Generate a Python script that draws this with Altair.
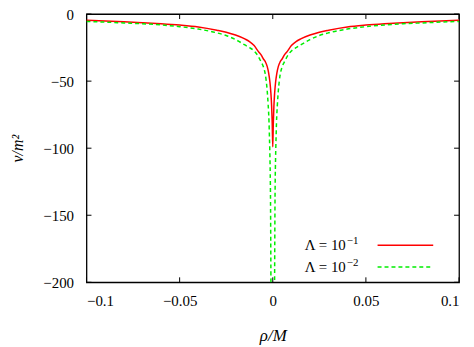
import altair as alt
import pandas as pd

# Red curve, Lambda = 10^-1
rho_red = [-0.1, -0.09, -0.08, -0.07, -0.06, -0.05, -0.04, -0.03, -0.025, -0.02, -0.015,
           -0.0125, -0.01, -0.0077, -0.006, -0.005, -0.004, -0.003, -0.0022, -0.0015,
           -0.001, -0.0006, -0.0003, 0.0,
           0.0003, 0.0006, 0.001, 0.0015, 0.0022, 0.003, 0.004, 0.005, 0.006,
           0.0077, 0.01, 0.0125, 0.015, 0.02, 0.025, 0.03, 0.04, 0.05, 0.06, 0.07,
           0.08, 0.09, 0.1]
v_red = [-4.6, -5.1, -5.7, -6.4, -7.2, -8.2, -9.6, -12.0, -13.5, -15.6, -18.5,
         -20.5, -23.5, -28.0, -31.0, -33.5, -35.5, -39.0, -44.0, -51.0,
         -59.0, -69.0, -81.0, -99.0,
         -81.0, -69.0, -59.0, -51.0, -44.0, -39.0, -35.5, -33.5, -31.0,
         -28.0, -23.5, -20.5, -18.5, -15.6, -13.5, -12.0, -9.6, -8.2, -7.2, -6.4,
         -5.7, -5.1, -4.6]

# Green dashed curve, Lambda = 10^-2
rho_green = [-0.1, -0.09, -0.08, -0.07, -0.06, -0.05, -0.04, -0.03, -0.025, -0.02, -0.015,
             -0.0125, -0.01, -0.008, -0.0065, -0.005, -0.004, -0.0035, -0.003, -0.0025,
             -0.002, -0.0018, -0.0015, -0.0013, -0.0012, -0.0011, -0.001, -0.0009, 0.0,
             0.0009, 0.001, 0.0011, 0.0012, 0.0013, 0.0015, 0.0018, 0.002, 0.0025,
             0.003, 0.0035, 0.004, 0.005, 0.0065, 0.008, 0.01, 0.0125, 0.015, 0.02,
             0.025, 0.03, 0.04, 0.05, 0.06, 0.07, 0.08, 0.09, 0.1]
v_green = [-5.5, -6.0, -6.6, -7.2, -8.1, -9.4, -11.2, -14.0, -16.0, -19.0, -23.0,
           -25.0, -27.5, -31.0, -35.0, -39.5, -45.0, -50.0, -57.0, -67.0,
           -81.0, -91.0, -108.0, -125.0, -140.0, -165.0, -195.0, -240.0, -400.0,
           -240.0, -195.0, -165.0, -140.0, -125.0, -108.0, -91.0, -81.0, -67.0,
           -57.0, -50.0, -45.0, -39.5, -35.0, -31.0, -27.5, -25.0, -23.0, -19.0,
           -16.0, -14.0, -11.2, -9.4, -8.1, -7.2, -6.6, -6.0, -5.5]

x_ticks = [-0.1, -0.05, 0.0, 0.05, 0.1]
y_ticks = [0, -50, -100, -150, -200]

legend_labels = ["Λ = 10", "Λ = 10"]
legend_sups = ["−1", "−2"]

W, H = 375, 270
FONT = "Liberation Serif"
RED = "#ff0000"
GREEN = "#00ee00"

xscale = alt.Scale(domain=[-0.1, 0.1], nice=False, zero=False)
yscale = alt.Scale(domain=[-200, 0], nice=False, zero=False)

red_df = pd.DataFrame({"rho": rho_red, "v": v_red, "i": range(len(rho_red))})
green_df = pd.DataFrame({"rho": rho_green, "v": v_green, "i": range(len(rho_green))})
xt_df = pd.DataFrame({"t": x_ticks})
yt_df = pd.DataFrame({"t": y_ticks})

x_axis = alt.Axis(values=x_ticks, format="~g", title="ρ/M", grid=False, domain=False,
                  ticks=False, labelFont=FONT, labelFontSize=15, labelPadding=11,
                  labelColor="black", titleFont=FONT, titleFontSize=17,
                  titleFontStyle="italic", titleFontWeight="normal", titleColor="black",
                  titleY=59, titleBaseline="alphabetic")
y_axis = alt.Axis(values=y_ticks, format="d", title="v/m²", grid=False, domain=False,
                  ticks=False, labelFont=FONT, labelFontSize=15, labelPadding=13,
                  labelColor="black", titleFont=FONT, titleFontSize=16,
                  titleFontStyle="italic", titleFontWeight="normal", titleColor="black",
                  titleX=-69, titleY=H / 2, titleBaseline="middle", titleAlign="center")

red_line = alt.Chart(red_df).mark_line(color=RED, strokeWidth=1.5, clip=True,
                                       interpolate="monotone").encode(
    x=alt.X("rho:Q", scale=xscale, axis=x_axis),
    y=alt.Y("v:Q", scale=yscale, axis=y_axis),
    order="i:Q",
)
green_line = alt.Chart(green_df).mark_line(color=GREEN, strokeWidth=1.5, strokeDash=[4, 3],
                                           clip=True, interpolate="monotone").encode(
    x=alt.X("rho:Q", scale=xscale),
    y=alt.Y("v:Q", scale=yscale),
    order="i:Q",
)

tick_style = dict(color="black", strokeWidth=1)
xt_bottom = alt.Chart(xt_df).mark_rule(**tick_style).encode(
    x=alt.X("t:Q", scale=xscale), y=alt.value(H), y2=alt.value(H - 5))
xt_top = alt.Chart(xt_df).mark_rule(**tick_style).encode(
    x=alt.X("t:Q", scale=xscale), y=alt.value(0), y2=alt.value(5))
yt_left = alt.Chart(yt_df).mark_rule(**tick_style).encode(
    y=alt.Y("t:Q", scale=yscale), x=alt.value(0), x2=alt.value(5))
yt_right = alt.Chart(yt_df).mark_rule(**tick_style).encode(
    y=alt.Y("t:Q", scale=yscale), x=alt.value(W), x2=alt.value(W - 5))

layers = [red_line, green_line, xt_bottom, xt_top, yt_left, yt_right]

rows = [(RED, [], 232.7, 237.7), (GREEN, [4, 3], 254.7, 259.7)]
for k, (col, dash, ly, ty) in enumerate(rows):
    ldf = pd.DataFrame({"label": [legend_labels[k]], "sup": [legend_sups[k]]})
    lkw = dict(color=col, strokeWidth=1.5)
    if dash:
        lkw["strokeDash"] = dash
    layers.append(alt.Chart(ldf).mark_rule(**lkw).encode(
        x=alt.value(293), x2=alt.value(349), y=alt.value(ly)))
    layers.append(alt.Chart(ldf).mark_text(font=FONT, fontSize=15, align="right",
                                           baseline="alphabetic", color="black").encode(
        text="label:N", x=alt.value(261), y=alt.value(ty)))
    layers.append(alt.Chart(ldf).mark_text(font=FONT, fontSize=11, align="left",
                                           baseline="alphabetic", color="black").encode(
        text="sup:N", x=alt.value(262), y=alt.value(ty - 6)))

chart = alt.layer(*layers).properties(
    width=W, height=H,
    background="white",
    autosize=alt.AutoSizeParams(type="none"),
    padding={"left": 79, "top": 5, "right": 7, "bottom": 63},
).configure_view(stroke="black", strokeWidth=1.3).configure_axis(
    labelFont=FONT, titleFont=FONT)

chart.save("out.html", embed_options={"renderer": "svg", "actions": False})
